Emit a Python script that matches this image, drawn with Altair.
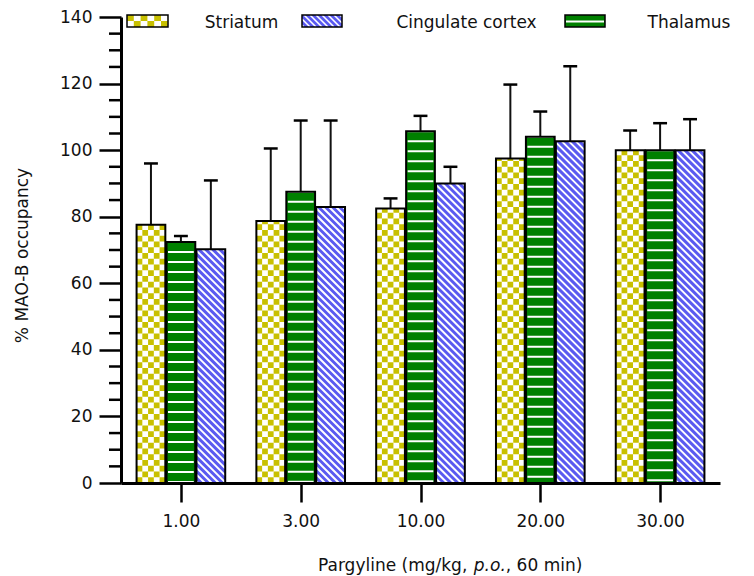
import altair as alt
import pandas as pd

# ---------------- data ----------------
doses = ["1.00", "3.00", "10.00", "20.00", "30.00"]
striatum = [77.6, 78.7, 82.5, 97.5, 100.0]
striatum_err = [18.4, 21.8, 3.0, 22.2, 5.9]
thalamus = [72.4, 87.5, 105.7, 104.0, 100.0]
thalamus_err = [1.8, 21.4, 4.6, 7.6, 8.1]
cingulate = [70.2, 82.9, 90.0, 102.7, 100.0]
cingulate_err = [20.7, 26.0, 5.0, 22.5, 9.3]
y_ticks = [0, 20, 40, 60, 80, 100, 120, 140]
legend_names = ["Striatum", "Cingulate cortex", "Thalamus"]

# ---------------- layout / style ----------------
W, H = 599, 466
YMAX = 140
PPU = H / YMAX
XPX = W / len(doses)
BW = 0.24
FONT = "DejaVu Sans"
FS = 17
YELLOW = "#c8c000"
GREEN = "#008000"
BLUE = "#5a5af0"
INK = "#111111"

series = [
    ("Striatum", striatum, striatum_err, -0.25, "white"),
    ("Thalamus", thalamus, thalamus_err, 0.0, GREEN),
    ("Cingulate cortex", cingulate, cingulate_err, 0.25, BLUE),
]

rows = []
for name, vals, errs, off, fill in series:
    for i, (v, e) in enumerate(zip(vals, errs)):
        xc = i + 1 + off
        rows.append(dict(region=name, xc=xc, x1=xc - BW / 2, x2=xc + BW / 2,
                         cl=xc - 0.058, cr=xc + 0.058, v=v, top=v + e,
                         zero=0.0, fill=fill))
bars = pd.DataFrame(rows)

# checkerboard columns for Striatum
NCOL = 5
cw = BW / NCOL
cpx = cw * XPX
chk = []
for _, r in bars[bars.region == "Striatum"].iterrows():
    for k in range(NCOL):
        chk.append(dict(x=r.x1 + (k + 0.5) * cw, v=r.v, zero=0.0, par=k % 2))
chk = pd.DataFrame(chk)

# diagonal hatch for Cingulate cortex
Wp = BW * XPX
diag = []
for _, r in bars[bars.region == "Cingulate cortex"].iterrows():
    Hp = r.v * PPU
    c = -Wp + 2
    while c < Hp:
        xs = max(0.0, -c)
        xe = min(Wp, Hp - c)
        if xe > xs:
            diag.append(dict(xa=r.x1 + xs / XPX, ya=r.v - (xs + c) / PPU,
                             xb=r.x1 + xe / XPX, yb=r.v - (xe + c) / PPU))
        c += 7.0
diag = pd.DataFrame(diag)

minor = pd.DataFrame({"m": [m for m in range(5, YMAX, 5) if m % 20 != 0]})

# ---------------- scales / axes ----------------
xs_ = alt.Scale(domain=[0.5, len(doses) + 0.5], nice=False, zero=False)
ys_ = alt.Scale(domain=[0, YMAX], nice=False)
label_expr = "[" + ",".join(f"'{d}'" for d in doses) + "][datum.value - 1]"
xaxis = alt.Axis(values=list(range(1, len(doses) + 1)), labelExpr=label_expr,
                 title=None, tickSize=19, tickWidth=2.5, domainWidth=3,
                 domainColor="black", tickColor="black", labelFont=FONT,
                 labelFontSize=FS, labelColor=INK, labelPadding=11, grid=False)
yaxis = alt.Axis(values=y_ticks, title="% MAO-B occupancy", tickSize=22,
                 tickWidth=2.5, domainWidth=3, domainColor="black",
                 tickColor="black", labelFont=FONT, labelFontSize=FS,
                 labelColor=INK, labelPadding=7, grid=False,
                 titleFont=FONT, titleFontSize=FS, titleFontWeight="normal",
                 titleColor=INK, titleAngle=270, titleX=-99, titleY=238,
                 titleAlign="center", titleBaseline="middle")


def X(f):
    return alt.X(f, type="quantitative", scale=xs_, axis=xaxis)


def Y(f):
    return alt.Y(f, type="quantitative", scale=ys_, axis=yaxis)


layers = []
layers.append(alt.Chart(bars).mark_rect(strokeWidth=0).encode(
    x=X("x1"), x2=alt.X2("x2"), y=Y("zero"), y2=alt.Y2("v"),
    fill=alt.Fill("fill:N", scale=None)))
for par, off in [(0, 0.0), (1, cpx)]:
    layers.append(alt.Chart(chk[chk.par == par]).mark_rule(
        color=YELLOW, strokeWidth=cpx, strokeDash=[cpx, cpx],
        strokeDashOffset=off, strokeCap="butt").encode(
        x=X("x"), y=Y("zero"), y2=alt.Y2("v")))
layers.append(alt.Chart(bars[bars.region == "Thalamus"]).mark_rule(
    color="white", strokeWidth=Wp - 3, strokeDash=[2, 8], strokeDashOffset=1,
    strokeCap="butt").encode(x=X("xc"), y=Y("v"), y2=alt.Y2("zero")))
layers.append(alt.Chart(diag).mark_rule(color="white", strokeWidth=2).encode(
    x=X("xa"), x2=alt.X2("xb"), y=Y("ya"), y2=alt.Y2("yb")))
layers.append(alt.Chart(bars).mark_rule(color=INK, strokeWidth=2).encode(
    x=X("xc"), y=Y("v"), y2=alt.Y2("top")))
layers.append(alt.Chart(bars).mark_rule(color="black", strokeWidth=2.5).encode(
    x=X("cl"), x2=alt.X2("cr"), y=Y("top")))
layers.append(alt.Chart(bars).mark_rect(filled=False, stroke="black",
                                        strokeWidth=2).encode(
    x=X("x1"), x2=alt.X2("x2"), y=Y("zero"), y2=alt.Y2("v")))
layers.append(alt.Chart(minor).mark_rule(color="black", strokeWidth=2.5).encode(
    y=Y("m"), x=alt.value(-12), x2=alt.value(0)))

# ---------------- legend (drawn by hand, pixel layout) ----------------
dummy = pd.DataFrame({"d": [0]})


def rect(x1, x2, y1, y2, **kw):
    return alt.Chart(dummy).mark_rect(**kw).encode(
        x=alt.value(x1), x2=alt.value(x2), y=alt.value(y1), y2=alt.value(y2))


def seg(x1, x2, y1, y2, **kw):
    return alt.Chart(dummy).mark_rule(**kw).encode(
        x=alt.value(x1), x2=alt.value(x2), y=alt.value(y1), y2=alt.value(y2))


LY1, LY2 = -2, 10
# Striatum swatch
sx1, sx2 = 6, 47
layers.append(rect(sx1, sx2, LY1, LY2, fill="white", strokeWidth=0))
sq = 6.8
layers.append(seg(sx1, sx2, 1, 1, color=YELLOW, strokeWidth=6,
                  strokeDash=[sq, sq], strokeDashOffset=0, strokeCap="butt"))
layers.append(seg(sx1, sx2, 7, 7, color=YELLOW, strokeWidth=6,
                  strokeDash=[sq, sq], strokeDashOffset=sq, strokeCap="butt"))
layers.append(rect(sx1, sx2, LY1, LY2, filled=False, stroke="black",
                   strokeWidth=1.5))
# Cingulate swatch
cx1, cx2 = 181, 221
layers.append(rect(cx1, cx2, LY1, LY2, fill=BLUE, strokeWidth=0))
lw, lh = cx2 - cx1, LY2 - LY1
c = -lw + 2
while c < lh:
    a = max(0.0, -c)
    b = min(lw, lh - c)
    if b > a:
        layers.append(seg(cx1 + a, cx1 + b, LY1 + a + c, LY1 + b + c,
                          color="white", strokeWidth=1.6))
    c += 6.0
layers.append(rect(cx1, cx2, LY1, LY2, filled=False, stroke="black",
                   strokeWidth=1.5))
# Thalamus swatch
tx1, tx2 = 444, 484
layers.append(rect(tx1, tx2, LY1, LY2, fill=GREEN, strokeWidth=0))
layers.append(seg(tx1 + 1, tx2 - 1, 4.5, 4.5, color="white", strokeWidth=2))
layers.append(rect(tx1, tx2, LY1, LY2, filled=False, stroke="black",
                   strokeWidth=1.5))

for name, xpos in zip(legend_names, [120.5, 345.5, 568]):
    layers.append(alt.Chart(dummy).mark_text(
        font=FONT, fontSize=FS, align="center", baseline="middle",
        color=INK).encode(x=alt.value(xpos), y=alt.value(6),
                          text=alt.value(name)))

# ---------------- x title (with italic p.o.) ----------------
title_parts = [("Pargyline (mg/kg, ", "normal", 197.0),
               ("p.o.", "italic", 352.8),
               (", 60 min)", "normal", 384.8)]
for txt, style, xpos in title_parts:
    layers.append(alt.Chart(dummy).mark_text(
        font=FONT, fontSize=FS, fontStyle=style, align="left",
        baseline="alphabetic", color=INK).encode(
        x=alt.value(xpos), y=alt.value(554), text=alt.value(txt)))

chart = alt.layer(*layers).properties(
    width=W, height=H,
    autosize=alt.AutoSizeParams(type="none"),
    padding={"left": 113, "top": 9, "right": 26, "bottom": 100},
).configure_view(strokeWidth=0)

chart.save("out.html", embed_options={"renderer": "svg", "actions": False})
